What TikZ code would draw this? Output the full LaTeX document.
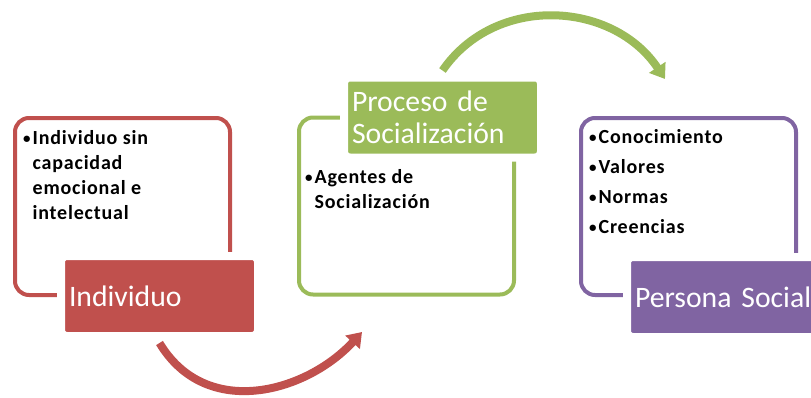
\documentclass[tikz,border=0pt]{standalone}
\usepackage{fontspec}
\setmainfont{Carlito}
\newfontfamily\itemfont{Carlito}[LetterSpace=4]
\usetikzlibrary{arrows.meta}
\definecolor{indred}{HTML}{C0504D}
\definecolor{procgreen}{HTML}{9BBB59}
\definecolor{perspurple}{HTML}{8064A2}
\newcommand{\bul}{{\fontsize{15}{15}\selectfont\raisebox{0.8pt}{\textbullet}}\kern2pt}
\begin{document}
\begin{tikzpicture}[x=1pt,y=-1pt,>={Triangle[width=19pt,length=14pt]},line join=round,
	outline/.style={draw=#1,line width=4pt,rounded corners=14pt,minimum width=215pt,minimum height=177pt,inner sep=0pt},
	title/.style={fill=#1,draw=white,line width=8pt,rounded corners=6pt,minimum width=197pt,minimum height=80pt,
		text width=181pt,inner xsep=8pt,align=left,text=white,font=\fontsize{29.7}{32}\selectfont},
	items/.style={anchor=north west,inner sep=0pt,align=left,font=\itemfont\bfseries\fontsize{20}{25}\selectfont},
	bend/.style={draw=#1,line width=8pt,->}]
	\clip (0,0) rectangle (811,397);
	% outlined boxes
	\node[outline=indred] (indbox) at (122.5,206.5) {};
	\node[outline=procgreen] (procbox) at (406.5,206) {};
	\node[outline=perspurple] (persbox) at (688.5,206.5) {};
	% contents
	\node[items] (indtxt) at (23,130) {\bul Individuo sin\\ \phantom{\bul}capacidad\\ \phantom{\bul}emocional e\\ \phantom{\bul}intelectual};
	\node[items] (proctxt) at (305,169) {\bul Agentes de\\ \phantom{\bul}Socialización};
	\node[items] (perstxt) at (589,129) {\bul Conocimiento\\[5pt]\bul Valores\\[5pt]\bul Normas\\[5pt]\bul Creencias};
	% titles
	\node[title=indred] (indlab) at (159.5,296) {Individuo};
	\node[title=procgreen] (proclab) at (442.5,117.5) {Proceso de\\Socialización};
	\node[title=perspurple] (perslab) at (725.5,297) {Persona Social};
	% arrows
	\coordinate (redtip) at (362,332);
	\coordinate (greentip) at (665,79);
	\draw[bend=indred] ([yshift=-3pt]indlab.south) .. controls +(47,78) and +(-55,60) .. (redtip);
	\draw[bend=procgreen] ([yshift=3pt]proclab.north) .. controls +(53,-77) and +(-52,-78) .. (greentip);
\end{tikzpicture}
\end{document}
